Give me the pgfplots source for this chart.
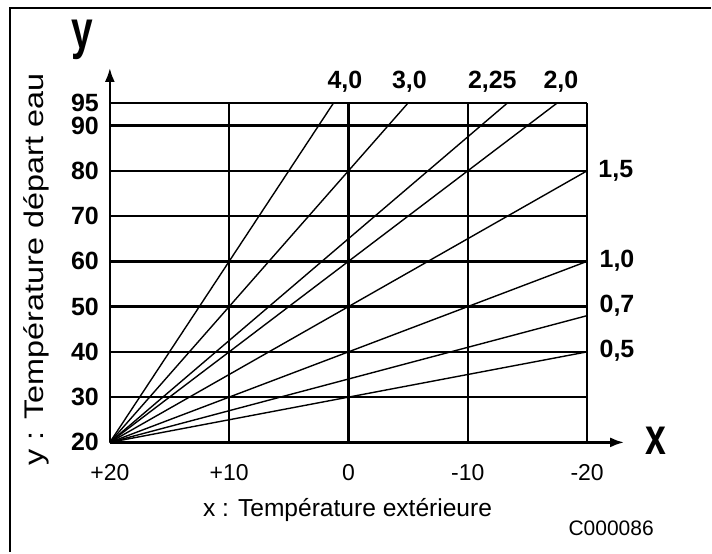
\documentclass[border=0pt]{standalone}
\usepackage{pgfplots}
\pgfplotsset{compat=1.18}
\usepackage{fontspec}
\setmainfont{Liberation Sans}
\usetikzlibrary{arrows.meta}
\begin{document}
\begin{tikzpicture}
\begin{axis}[
  name=ax,
  scale only axis,
  width=239pt, height=170pt,
  x dir=reverse,
  xmin=-20, xmax=20, ymin=20, ymax=95,
  xtick={20,10,0,-10,-20},
  xticklabels={+20,+10,0,-10,-20},
  ytick={20,30,40,50,60,70,80,90,95},
  axis line style={draw=none},
  major tick length=0pt,
  grid=major,
  grid style={black, line width=1.2pt},
  /pgf/number format/assume math mode=true,
  xticklabel style={font=\fontsize{11.5}{13}\selectfont, yshift=-7.5pt},
  yticklabel style={font=\fontsize{12.5}{14}\selectfont\bfseries, xshift=-2pt},
  clip=false,
]
\addplot[black, line width=0.7pt] coordinates {(20,20) (1.25,95)};
\addplot[black, line width=0.7pt] coordinates {(20,20) (-5,95)};
\addplot[black, line width=0.7pt] coordinates {(20,20) (-13.33,95)};
\addplot[black, line width=0.7pt] coordinates {(20,20) (-17.5,95)};
\addplot[black, line width=0.7pt] coordinates {(20,20) (-20,80)};
\addplot[black, line width=0.7pt] coordinates {(20,20) (-20,60)};
\addplot[black, line width=0.7pt] coordinates {(20,20) (-20,48)};
\addplot[black, line width=0.7pt] coordinates {(20,20) (-20,40)};
\begin{scope}[every node/.style={font=\fontsize{12.5}{14}\selectfont\bfseries, anchor=base}]
\node at (axis cs:0.3,98.1) {4,0};
\node at (axis cs:-5.1,98.1) {3,0};
\node at (axis cs:-12.05,98.1) {2,25};
\node at (axis cs:-17.8,98.1) {2,0};
\node at (axis cs:-22.4,78.5) {1,5};
\node at (axis cs:-22.5,58.6) {1,0};
\node at (axis cs:-22.5,48.7) {0,7};
\node at (axis cs:-22.5,38.75) {0,5};
\end{scope}
\end{axis}
\draw[line width=1.2pt, -{Latex[length=7pt,width=5pt]}] (ax.south west) -- ([yshift=17.5pt]ax.north west);
\draw[line width=1.2pt, -{Latex[length=7pt,width=5pt]}] (ax.south west) -- ([xshift=18.5pt]ax.south east);
\node[anchor=base, font=\fontsize{27}{29}\selectfont\bfseries] at (-14pt,197pt) {\scalebox{0.72}[1]{y}};
\node[anchor=base, font=\fontsize{26}{28}\selectfont\bfseries] at (273.5pt,-6pt) {\scalebox{0.72}[1]{x}};
\node[rotate=90, font=\fontsize{13.5}{15}\selectfont] at (-37pt,86.5pt) {\scalebox{1.2}[1]{y : Température départ eau}};
\node[anchor=base, font=\fontsize{12.3}{14}\selectfont] at (119pt,-37pt) {x : Température extérieure};
\node[font=\fontsize{10.5}{12}\selectfont] at (251pt,-43pt) {C000086};
\draw[line width=1pt] (-50pt,-55pt) -- (-50pt,217.5pt) -- (301pt,217.5pt);
\useasboundingbox (-55pt,-55pt) rectangle (301pt,221.5pt);
\end{tikzpicture}
\end{document}
